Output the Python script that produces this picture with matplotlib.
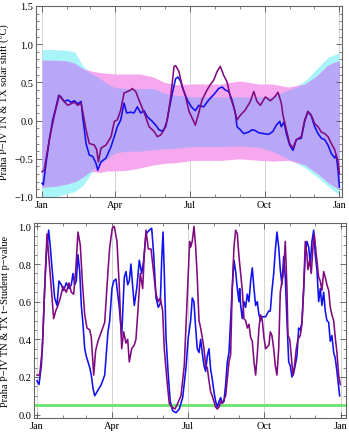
import numpy as np
import matplotlib
matplotlib.use("Agg")
import matplotlib.pyplot as plt
from matplotlib.ticker import MultipleLocator, FixedLocator

plt.rcParams['font.family'] = ['Liberation Serif', 'DejaVu Serif']
plt.rcParams['axes.unicode_minus'] = True

# month positions (day of year)
month_starts = [0, 31, 59, 90, 120, 151, 181, 212, 243, 273, 304, 334, 365]
major_days = [0, 90, 181, 273, 365]
major_labels = ['Jan', 'Apr', 'Jul', 'Oct', 'Jan']

# confidence bands (solar shift, degC)
band_days = [0, 15, 30, 40, 50, 60, 70, 80, 90, 105, 120, 137, 150, 165, 186,
             200, 220, 242, 266, 282, 302, 323, 339, 350, 358, 365]
tn_up = [0.93, 0.93, 0.92, 0.90, 0.72, 0.62, 0.56, 0.48, 0.43, 0.42, 0.42, 0.42, 0.36,
         0.33, 0.31, 0.31, 0.31, 0.31, 0.31, 0.31, 0.40, 0.52, 0.70, 0.82, 0.86, 0.88]
tn_lo = [-1.0, -1.0, -0.96, -0.93, -0.85, -0.70, -0.58, -0.50, -0.42, -0.40, -0.40, -0.38,
         -0.37, -0.36, -0.34, -0.34, -0.34, -0.33, -0.35, -0.40, -0.50, -0.62, -0.75,
         -0.85, -0.92, -0.97]
tx_up = [0.79, 0.79, 0.78, 0.75, 0.68, 0.65, 0.63, 0.62, 0.61, 0.61, 0.61, 0.57, 0.50,
         0.47, 0.48, 0.48, 0.48, 0.52, 0.48, 0.48, 0.44, 0.48, 0.60, 0.72, 0.76, 0.78]
tx_lo = [-0.87, -0.86, -0.83, -0.80, -0.74, -0.66, -0.68, -0.66, -0.66, -0.65, -0.62,
         -0.58, -0.56, -0.55, -0.52, -0.52, -0.52, -0.50, -0.52, -0.53, -0.52, -0.58,
         -0.70, -0.80, -0.86, -0.90]

# solar shift curves
tn_days = [0, 1.6, 4.9, 9.0, 13.1, 17.2, 20.5, 23.3, 27.4, 31.5, 35.6, 39.6, 43.8, 47.9,
           49.9, 51.9, 54, 58, 62.2, 66.3, 68.3, 72.4, 78.5, 84.7, 88.7, 92.4, 96.6,
           100.6, 103.9, 108.8, 112.9, 116.9, 121.1, 125.2, 129.2, 135.3, 139.5, 143.6,
           147.6, 151.8, 155.8, 159.9, 164, 166.9, 170.2, 174.2, 178.3, 183.2, 188.1,
           192.3, 198.4, 204.5, 210.7, 216.8, 220.9, 224.9, 229.1, 233.1, 237.2, 239.3,
           243.3, 247.5, 253.6, 257.7, 261.7, 265.9, 272, 278.2, 283.4, 287.5, 291.7,
           293.6, 296.9, 299.8, 303.9, 308, 312, 318.2, 322.3, 326.4, 330.4, 334.6,
           338.7, 342.7, 346.9, 350.9, 355, 359.1, 361.1, 363.2, 365]
tn_shift = [-0.82, -0.84, -0.56, -0.25, 0.01, 0.18, 0.33, 0.31, 0.25, 0.27, 0.24, 0.26,
            0.22, 0.25, 0.05, -0.12, -0.30, -0.45, -0.47, -0.56, -0.65, -0.54, -0.49,
            -0.34, -0.21, -0.08, 0.01, 0.23, 0.10, 0.11, 0.10, 0.18, 0.10, 0.13, 0.05,
            -0.01, -0.06, -0.12, -0.14, -0.08, 0.14, 0.36, 0.55, 0.57, 0.51, 0.38, 0.27,
            0.18, 0.13, 0.20, 0.18, 0.27, 0.34, 0.42, 0.44, 0.40, 0.38, 0.27, 0.10, -0.08,
            -0.12, -0.17, -0.15, -0.12, -0.13, -0.16, -0.17, -0.18, -0.14, -0.06, -0.01,
            -0.08, -0.02, -0.17, -0.32, -0.39, -0.25, -0.23, -0.01, 0.12, 0.06, -0.08,
            -0.17, -0.23, -0.25, -0.32, -0.43, -0.49, -0.45, -0.65, -0.87]

tx_days = [0, 2.5, 9.0, 15.1, 21.2, 25.4, 31.5, 35.6, 39.6, 43.8, 47.9, 49.9, 54, 58,
           64.2, 67.1, 69.1, 72.4, 78.5, 84.7, 88.7, 92.4, 96.6, 100.6, 104.7, 108.8,
           110.8, 115, 119, 123.1, 127.2, 131.3, 137.4, 141.5, 145.6, 149.7, 153.7,
           157.9, 162, 164, 168.1, 172.1, 176.3, 180.4, 184.4, 188.1, 192.3, 196.3,
           202.5, 206.5, 210.7, 214.7, 218.8, 223, 227, 231.1, 235.2, 239.3, 243.3,
           249.5, 255.6, 259.8, 263.8, 267.9, 274, 280.1, 285.5, 289.6, 293.6, 295.7,
           299.8, 303.9, 308, 312, 318.2, 322.3, 326.4, 330.4, 334.6, 338.7, 342.7,
           346.9, 350.9, 355, 359.1, 363.2, 365]
tx_shift = [-0.67, -0.65, -0.25, 0.07, 0.33, 0.27, 0.20, 0.22, 0.24, 0.20, 0.23, 0.12,
            -0.12, -0.30, -0.32, -0.38, -0.54, -0.36, -0.32, -0.21, -0.01, 0.01, 0.14,
            0.36, 0.38, 0.40, 0.42, 0.38, 0.27, 0.16, 0.05, -0.08, -0.14, -0.21, -0.19,
            -0.12, 0.01, 0.31, 0.71, 0.72, 0.64, 0.44, 0.31, 0.12, 0.03, -0.06, 0.10,
            0.27, 0.40, 0.47, 0.53, 0.64, 0.71, 0.59, 0.51, 0.31, 0.18, 0.01, 0.07, 0.14,
            0.25, 0.38, 0.25, 0.20, 0.31, 0.26, 0.31, 0.37, 0.23, 0.07, -0.12, -0.30,
            -0.36, -0.25, -0.21, 0.01, 0.12, 0.07, -0.04, -0.08, -0.15, -0.17, -0.21,
            -0.30, -0.38, -0.54, -0.69]

# t-Student p-values
tn_p_days = [0, 2.4, 5.2, 7.2, 9.2, 11.2, 14, 16, 18.4, 21.2, 24, 26.4, 29.2, 32, 35.2,
             38.4, 41.2, 43.2, 45.3, 47.2, 49.2, 51.3, 53.2, 55.2, 57.3, 59.2, 63.3,
             65.2, 67.2, 69.3, 73.2, 77.2, 81.3, 85.2, 87.3, 90, 92.1, 94.8, 98.8,
             101.7, 104.8, 106.8, 108.9, 110.8, 112.8, 114.9, 116.8, 120, 122.8, 125.7,
             128.1, 130.9, 134.8, 137.7, 140.1, 142.9, 145.6, 148, 149.7, 151.3, 152.8,
             154.9, 157.6, 160, 162.9, 166.9, 170.8, 174.9, 178.9, 181.6, 184.5, 186.4,
             188.4, 190.5, 192.4, 194.5, 196.5, 198.4, 200.5, 202.5, 204.4, 206.5,
             208.5, 210.4, 212.5, 214.5, 216.4, 218.5, 220.5, 222.4, 224.5, 226.5,
             228.5, 230.5, 232.5, 234.4, 236.5, 238.5, 240.5, 242.5, 243.3, 244.5,
             246.5, 248.5, 250.5, 252.5, 254.5, 256.5, 258.5, 260.5, 262.5, 264.5,
             266.5, 268.5, 270.5, 274.5, 278.1, 280.1, 282.1, 284.2, 286.1, 288.1,
             290.2, 292.1, 294.1, 296.2, 298.1, 300.1, 302.2, 304.1, 306.1, 308.2,
             312.1, 314.2, 316.1, 318.1, 320.2, 322.1, 324.1, 326.2, 328.1, 330.1,
             332.2, 334.1, 336.1, 338.2, 340.1, 342.1, 344.2, 346.1, 348.1, 350.2,
             352.1, 354.1, 356.2, 358.1, 360.1, 363.4]
tn_p = [0.18, 0.16, 0.26, 0.43, 0.67, 0.85, 0.98, 0.89, 0.76, 0.62, 0.58, 0.71, 0.69,
        0.66, 0.70, 0.67, 0.69, 0.75, 0.69, 0.71, 0.85, 0.76, 0.58, 0.48, 0.35, 0.31,
        0.25, 0.21, 0.14, 0.10, 0.13, 0.16, 0.21, 0.44, 0.50, 0.67, 0.71, 0.72, 0.57,
        0.42, 0.73, 0.76, 0.69, 0.71, 0.80, 0.68, 0.58, 0.68, 0.82, 0.75, 0.82, 0.96,
        0.98, 0.99, 0.85, 0.62, 0.57, 0.59, 0.82, 0.97, 0.76, 0.41, 0.21, 0.07, 0.02,
        0.01, 0.03, 0.09, 0.25, 0.41, 0.50, 0.62, 0.60, 0.46, 0.35, 0.33, 0.40, 0.33,
        0.26, 0.23, 0.31, 0.35, 0.24, 0.19, 0.12, 0.07, 0.04, 0.07, 0.09, 0.06, 0.07,
        0.16, 0.28, 0.33, 0.50, 0.67, 0.82, 0.76, 0.67, 0.60, 0.67, 0.58, 0.51, 0.60,
        0.57, 0.64, 0.60, 0.71, 0.78, 0.67, 0.58, 0.60, 0.53, 0.50, 0.52, 0.52, 0.55,
        0.55, 0.66, 0.75, 0.87, 0.97, 0.89, 0.77, 0.69, 0.84, 0.73, 0.50, 0.28, 0.26,
        0.20, 0.22, 0.31, 0.46, 0.45, 0.49, 0.67, 0.85, 0.92, 0.89, 0.80, 0.92, 0.98,
        0.85, 0.77, 0.60, 0.67, 0.58, 0.65, 0.55, 0.50, 0.49, 0.39, 0.42, 0.33, 0.30,
        0.23, 0.10]

tx_p_days = [0, 3.2, 6.4, 9.2, 12, 14, 17.2, 20, 22.4, 25.2, 28, 31.2, 35.2, 38.4, 41.2,
             44, 46.4, 49.2, 52, 54.4, 57.3, 60, 63.3, 65.2, 68.1, 70.4, 73.2, 77.2,
             81.3, 85.2, 87.3, 90.4, 92.8, 96, 98.8, 101.7, 104.1, 106.8, 108.9, 110.8,
             113.7, 116.8, 118.8, 121.6, 124, 126.9, 128.8, 130.9, 133.6, 136.9, 138.9,
             142.9, 145.6, 148, 150.9, 152.8, 156.1, 158.8, 161.7, 165.7, 168.9, 172.9,
             176.8, 180.9, 183.3, 184.5, 186.4, 188.5, 190.5, 192.4, 194.5, 196.5,
             198.4, 200.5, 202.5, 204.4, 206.5, 208.5, 210.4, 212.5, 214.5, 216.4,
             218.5, 220.5, 222.4, 226.5, 228.5, 230.5, 232.5, 234.4, 236.5, 238.5,
             240.5, 242.5, 244.5, 246.5, 248.5, 250.5, 252.5, 254.5, 256.5, 258.5,
             260.5, 262.5, 264.5, 266.5, 268.5, 270.5, 272.5, 274.5, 278.5, 280.1,
             282.1, 284.2, 286.1, 288.1, 290.2, 292.1, 294.1, 296.2, 298.1, 300.1,
             301.3, 303.4, 304.9, 307.3, 308.9, 311.3, 313.3, 316.1, 318.1, 320.2,
             322.1, 324.1, 325.3, 327.4, 329.3, 331.3, 332.9, 335.3, 338.2, 340.1,
             342.1, 344.2, 346.1, 348.1, 350.2, 352.1, 354.1, 356.2, 358.1, 360.1,
             362.2, 364.1]
tx_p = [0.21, 0.21, 0.35, 0.67, 0.96, 0.85, 0.67, 0.51, 0.55, 0.58, 0.62, 0.68, 0.65,
        0.70, 0.65, 0.64, 0.76, 0.97, 0.90, 0.71, 0.53, 0.46, 0.45, 0.41, 0.21, 0.34,
        0.39, 0.44, 0.49, 0.76, 0.89, 0.99, 1.0, 0.92, 0.68, 0.35, 0.44, 0.38, 0.40,
        0.28, 0.35, 0.37, 0.40, 0.58, 0.75, 0.67, 0.85, 0.98, 0.88, 0.88, 0.80, 0.64,
        0.60, 0.62, 0.55, 0.35, 0.18, 0.06, 0.04, 0.03, 0.06, 0.10, 0.26, 0.67, 0.92,
        0.89, 0.92, 1.0, 0.89, 0.73, 0.50, 0.46, 0.41, 0.35, 0.26, 0.25, 0.18, 0.12,
        0.10, 0.07, 0.04, 0.03, 0.04, 0.07, 0.06, 0.10, 0.19, 0.28, 0.32, 0.67, 0.89,
        0.98, 0.96, 0.84, 0.75, 0.66, 0.51, 0.50, 0.46, 0.48, 0.41, 0.39, 0.28, 0.21,
        0.32, 0.46, 0.53, 0.50, 0.41, 0.35, 0.37, 0.44, 0.42, 0.35, 0.26, 0.21, 0.35,
        0.65, 0.71, 0.76, 0.92, 0.67, 0.42, 0.40, 0.33, 0.21, 0.25, 0.35, 0.40, 0.42,
        0.48, 0.67, 0.92, 0.85, 0.77, 0.82, 0.75, 0.89, 0.96, 0.85, 0.73, 0.71, 0.66,
        0.76, 0.73, 0.69, 0.66, 0.57, 0.53, 0.50, 0.41, 0.33, 0.21, 0.16]
p_threshold = 0.05

col_tn = '#1010f0'
col_tx = '#800a80'

fig = plt.figure(figsize=(3.49, 4.35), dpi=100)
ax1 = fig.add_axes([36 / 349, 1 - 198 / 435, 306 / 349, 191 / 435])
ax2 = fig.add_axes([34 / 349, 1 - 419 / 435, 312 / 349, 195 / 435])

# --- top: solar shift with bands
ov_up = np.minimum(tn_up, tx_up)
ov_lo = np.maximum(tn_lo, tx_lo)
ax1.fill_between(band_days, tn_lo, tn_up, color='#a8f4f8', lw=0)
ax1.fill_between(band_days, tx_lo, tx_up, color='#f6a8ee', lw=0)
ax1.fill_between(band_days, ov_lo, ov_up, color='#b8a6f6', lw=0)
ax1.plot(tn_days, tn_shift, color=col_tn, lw=1.15)
ax1.plot(tx_days, tx_shift, color=col_tx, lw=1.15)
ax1.set_xlim(-7.4, 368.1)
ax1.set_ylim(-1.0, 1.5)
ax1.yaxis.set_major_locator(MultipleLocator(0.5))
ax1.yaxis.set_minor_locator(MultipleLocator(0.1))
ax1.set_ylabel('Praha P\u2212IV TN & TX solar shift (\u00b0C)', fontsize=7.5)
ax1.yaxis.set_label_coords(-0.085, 0.5)

# --- bottom: p-values
ax2.axhline(p_threshold, color='#6ae46a', lw=2)
ax2.plot(tn_p_days, tn_p, color=col_tn, lw=1.15)
ax2.plot(tx_p_days, tx_p, color=col_tx, lw=1.15)
ax2.set_xlim(-3.6, 371)
ax2.set_ylim(-0.018, 1.018)
ax2.yaxis.set_major_locator(MultipleLocator(0.2))
ax2.yaxis.set_minor_locator(MultipleLocator(0.05))
ax2.set_ylabel('Praha P\u2212IV TN & TX t\u2212Student p\u2212value', fontsize=7.5)
ax2.yaxis.set_label_coords(-0.077, 0.5)

for ax in (ax1, ax2):
    ax.set_xticks(major_days)
    ax.set_xticklabels(major_labels)
    ax.xaxis.set_minor_locator(FixedLocator(month_starts))
    for d in major_days:
        ax.axvline(d, color='#cccccc', lw=0.6, zorder=0.5)
    ax.tick_params(which='both', direction='in', top=True, right=True,
                   labelsize=7.5, pad=2, color='#555555')
    ax.tick_params(which='major', length=4, width=0.6)
    ax.tick_params(which='minor', length=2, width=0.5)
    for s in ax.spines.values():
        s.set_color('#666666')
        s.set_linewidth(0.8)

fig.savefig('out.png', dpi=100)
